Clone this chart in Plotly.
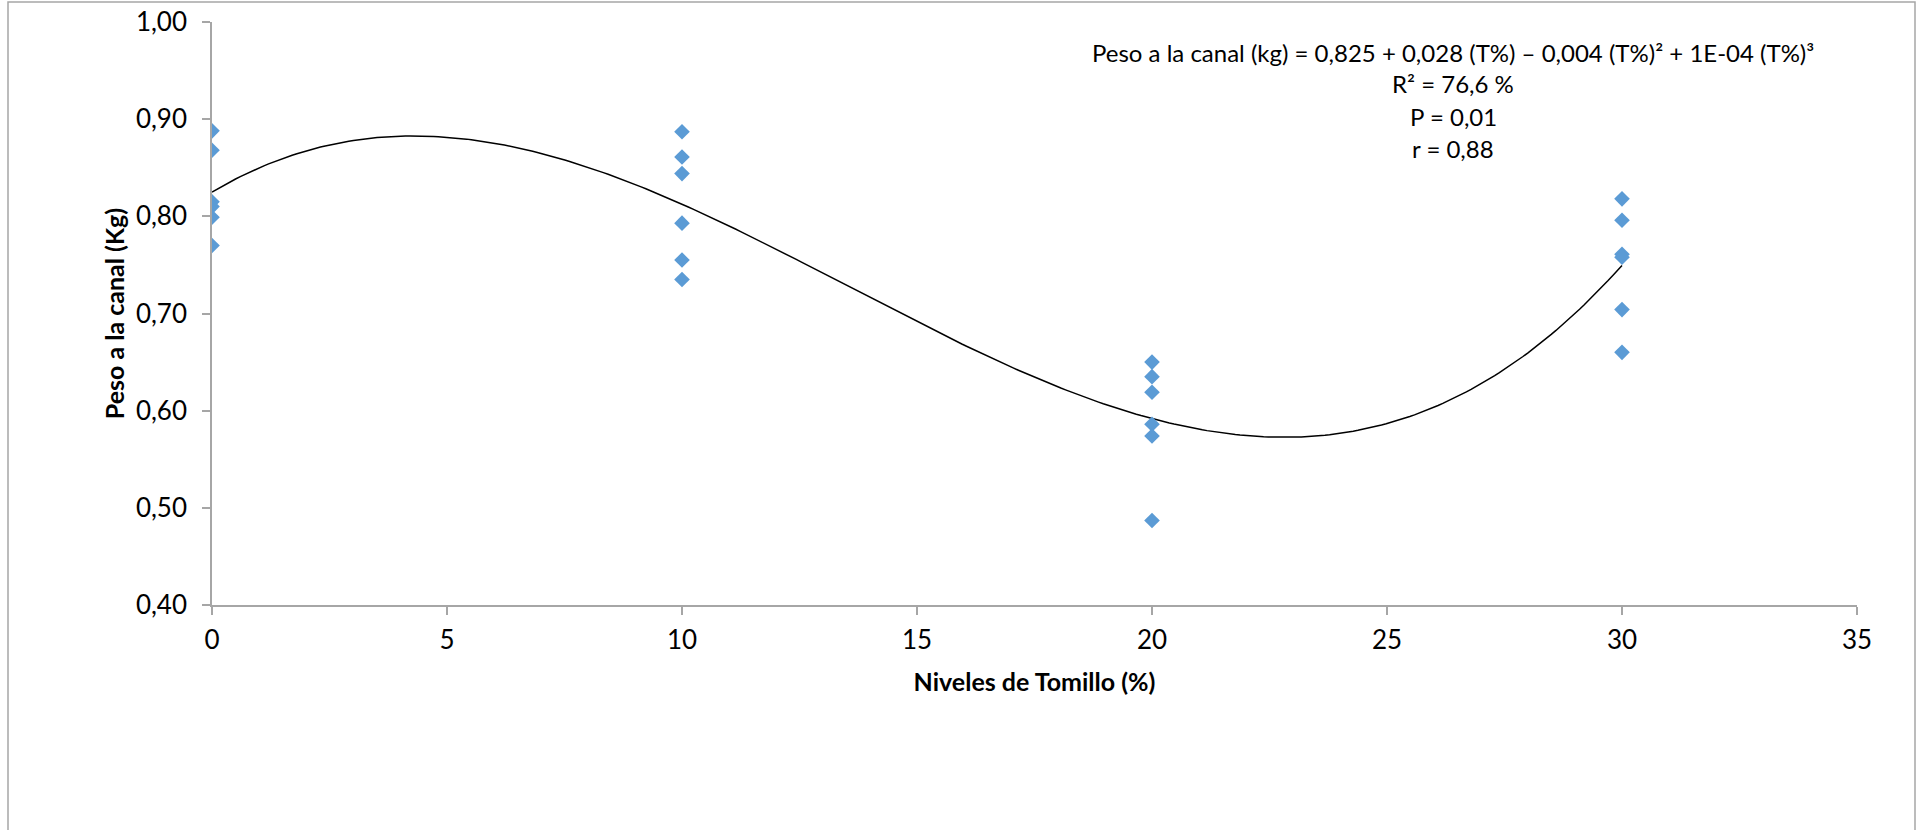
import numpy as np
import plotly.graph_objects as go

# ---- data ----
niveles = [0, 0, 0, 0, 0, 0,
           10, 10, 10, 10, 10, 10,
           20, 20, 20, 20, 20, 20,
           30, 30, 30, 30, 30, 30]
peso = [0.888, 0.868, 0.815, 0.810, 0.799, 0.770,
        0.887, 0.861, 0.844, 0.793, 0.755, 0.735,
        0.650, 0.635, 0.619, 0.586, 0.574, 0.487,
        0.818, 0.796, 0.761, 0.758, 0.704, 0.660]

x_ticks = [0, 5, 10, 15, 20, 25, 30, 35]
y_ticks = [0.40, 0.50, 0.60, 0.70, 0.80, 0.90, 1.00]

eq_lines = [
    "Peso a la canal (kg) = 0,825 + 0,028 (T%) – 0,004 (T%)² + 1E-04 (T%)³",
    "R² = 76,6 %",
    "P = 0,01",
    "r = 0,88",
]

# cubic trend line fitted to the points
coef = np.polyfit(niveles, peso, 3)
xf = np.linspace(min(niveles), max(niveles), 300)
yf = np.polyval(coef, xf)

FONT = "Lato, Open Sans, sans-serif"
AXIS_GRAY = "#a6a6a6"

fig = go.Figure()
fig.add_trace(go.Scatter(
    x=xf, y=yf, mode="lines",
    line=dict(color="black", width=1.5),
    hoverinfo="skip", showlegend=False,
))
fig.add_trace(go.Scatter(
    x=niveles, y=peso, mode="markers",
    marker=dict(symbol="diamond", size=12, color="#5B9BD5"),
    showlegend=False,
))

W, H = 1923, 830
L, R, T, B = 212, 66, 22, 225
pw, ph = W - L - R, H - T - B

def px_x(p):
    return (p - L) / pw

def px_y(p):
    return (H - B - p) / ph

fig.update_layout(
    width=W, height=H,
    margin=dict(l=L, r=R, t=T, b=B, autoexpand=False),
    paper_bgcolor="white", plot_bgcolor="white",
    separators=",.",
    font=dict(family=FONT, size=24, color="black"),
    xaxis=dict(
        range=[0, 35], tickvals=x_ticks, showgrid=False, zeroline=False,
        showline=True, linecolor=AXIS_GRAY, linewidth=1.5,
        ticks="outside", ticklen=8, tickcolor=AXIS_GRAY, tickwidth=1.5,
        ticklabelstandoff=3, automargin=False,
        tickfont=dict(family=FONT, size=26),
        title=dict(text="<b>Niveles de Tomillo (%)</b>", standoff=20,
                   font=dict(family=FONT, size=25)),
    ),
    yaxis=dict(
        range=[0.40, 1.00], tickvals=y_ticks, tickformat=".2f",
        showgrid=False, zeroline=False,
        showline=True, linecolor=AXIS_GRAY, linewidth=1.5,
        ticks="outside", ticklen=8, tickcolor=AXIS_GRAY, tickwidth=1.5,
        ticklabelstandoff=10, automargin=False,
        tickfont=dict(family=FONT, size=26),
        title=dict(text="<b>Peso a la canal (Kg)</b>", standoff=4,
                   font=dict(family=FONT, size=25)),
    ),
)

# equation / statistics text
line_y = [52, 83, 117, 148]
for txt, yy in zip(eq_lines, line_y):
    fig.add_annotation(
        x=px_x(1453), y=px_y(yy), xref="paper", yref="paper",
        text=txt, showarrow=False, xanchor="center", yanchor="middle",
        font=dict(family=FONT, size=24, color="black"),
    )

# chart area border
fig.add_shape(
    type="rect", xref="paper", yref="paper",
    x0=px_x(8), x1=px_x(1915), y0=px_y(860), y1=px_y(2),
    line=dict(color=AXIS_GRAY, width=1.5), fillcolor="rgba(0,0,0,0)",
    layer="below",
)

fig.write_html(
    "out.html",
    config={"displayModeBar": False},
    post_script=(
        "document.documentElement.style.margin='0px';"
        "document.body.style.margin='0px';"
        "document.body.style.padding='0px';"
        "document.body.style.overflow='hidden';"
    ),
)
